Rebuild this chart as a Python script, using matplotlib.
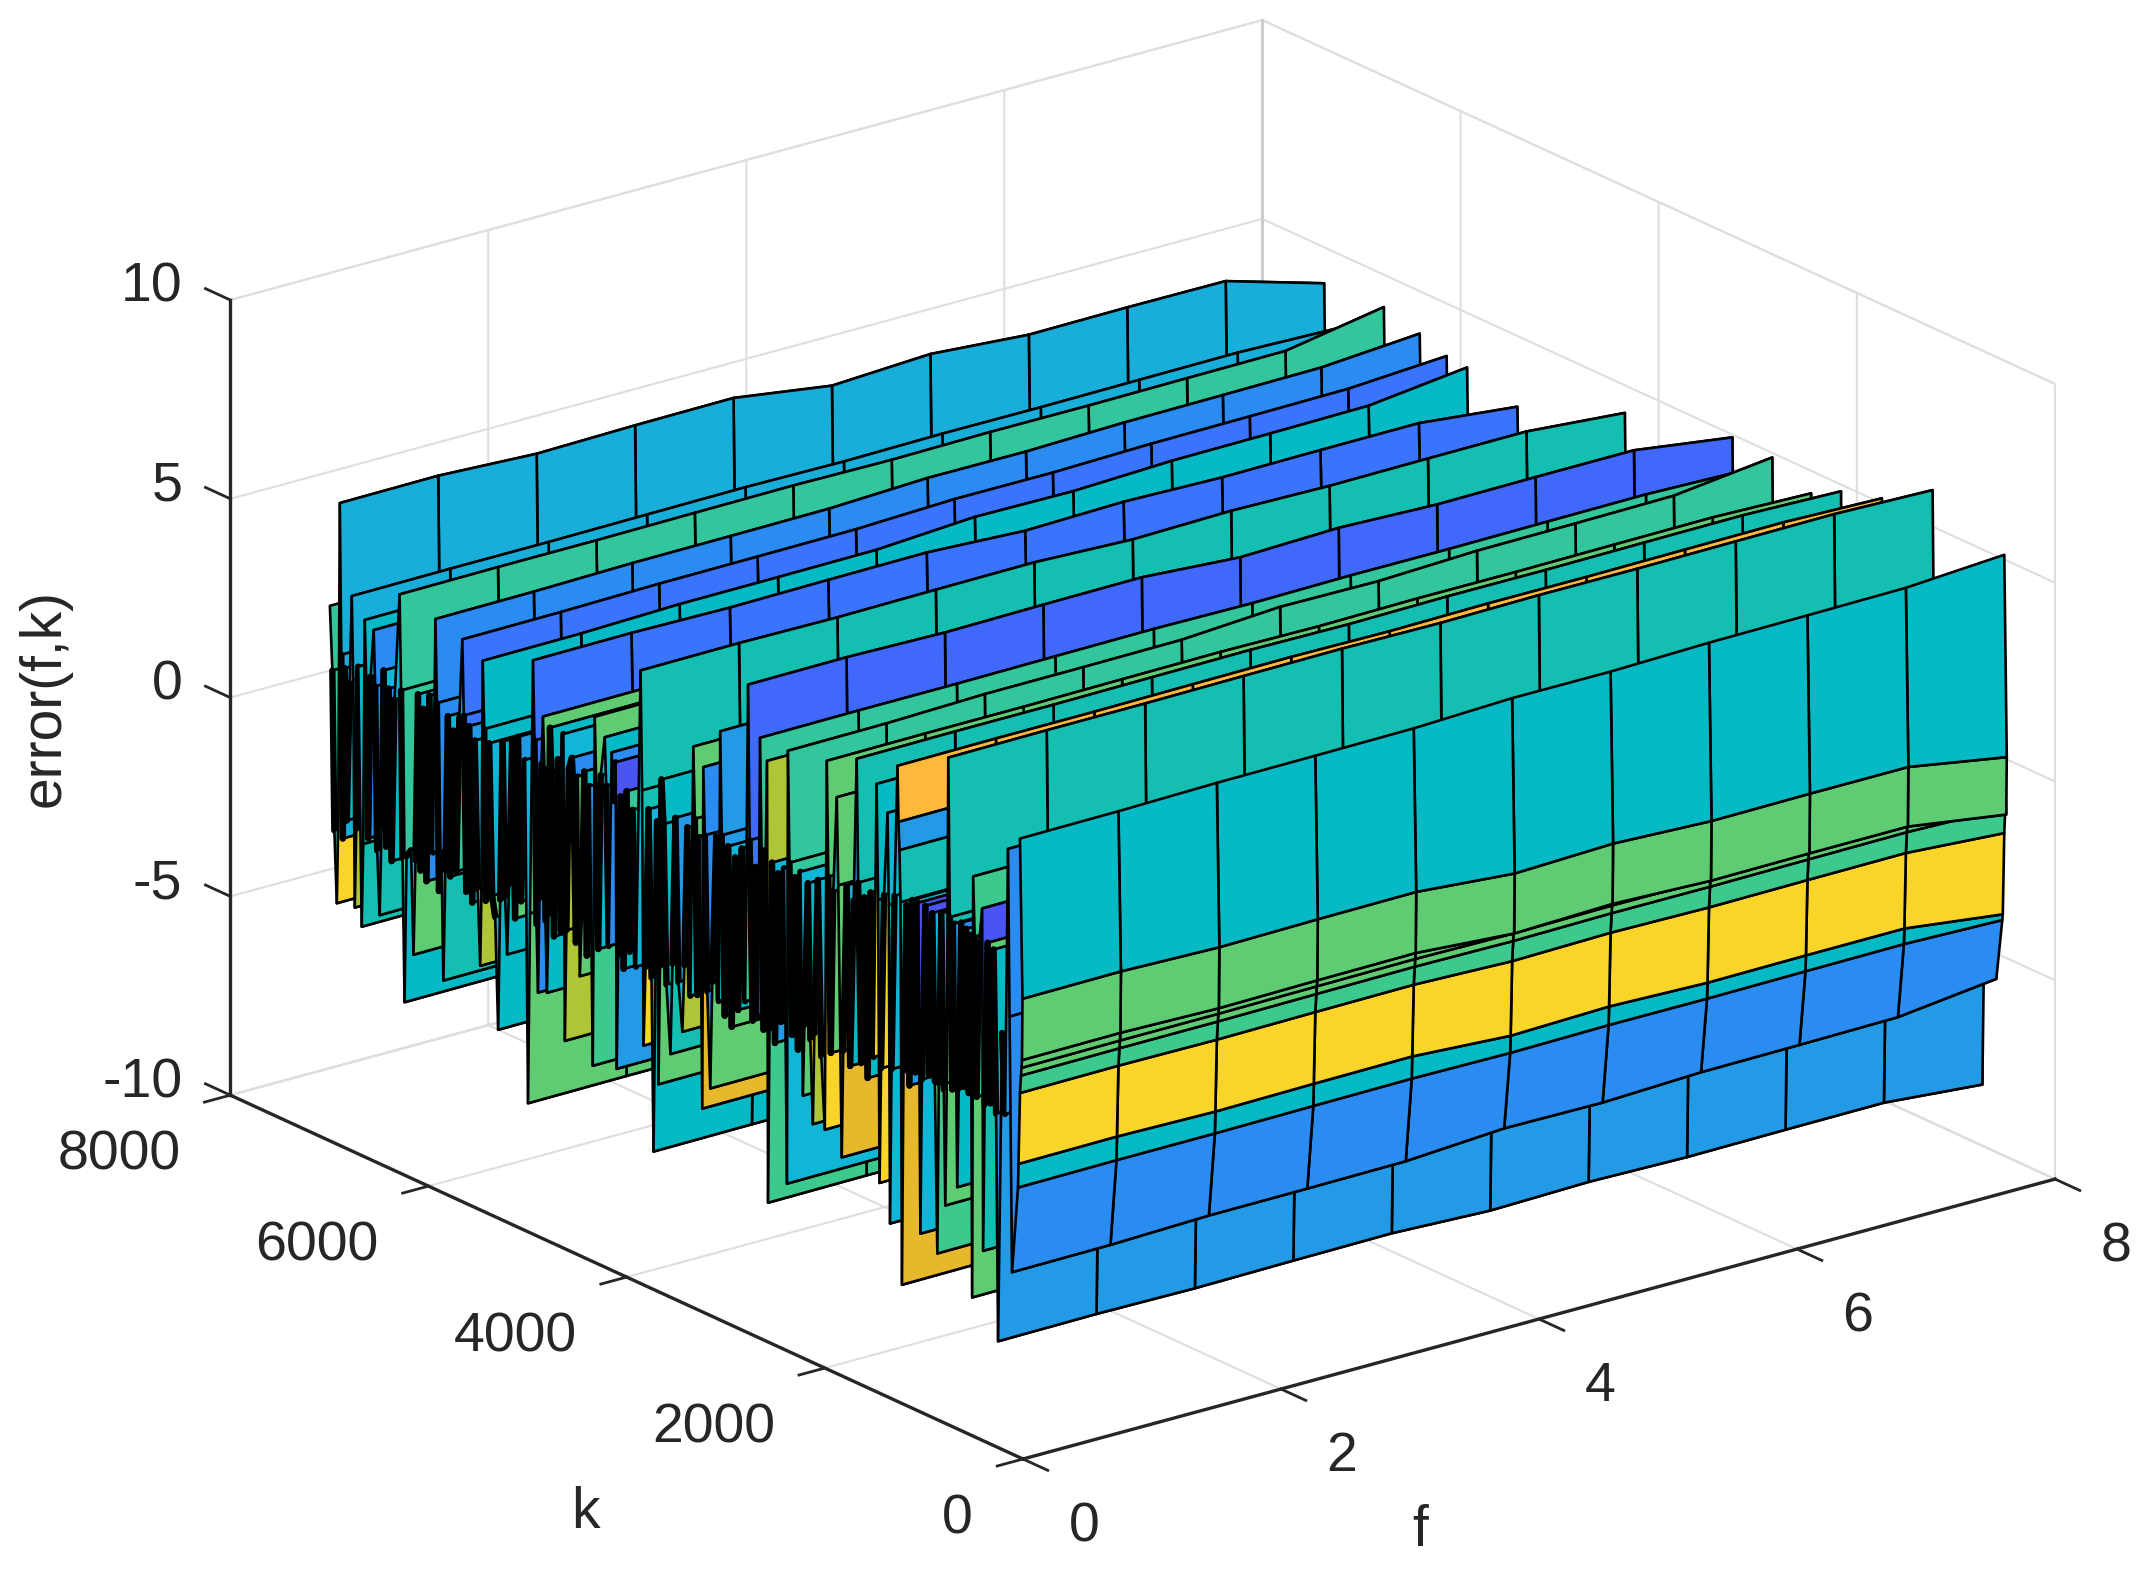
import numpy as np
import matplotlib
matplotlib.use("Agg")
import matplotlib.pyplot as plt
from matplotlib.colors import to_rgba
from mpl_toolkits.mplot3d import proj3d

plt.rcParams['font.family'] = ['Liberation Sans', 'DejaVu Sans']
plt.rcParams['axes.unicode_minus'] = False

W, H = 2147, 1569
TEXT = '#262626'

f_grid = [0, 0.763, 1.526, 2.289, 3.052, 3.815, 4.578, 5.341, 6.104, 6.867, 7.63]
f_share = [0, 0, .1, .08, .08, .36, .28, .43, .43, .45, 1]
f_share_end = [0, 0, 0, 0, 0, 0, 0, 0, 0, 0, 1]

palette = dict(a='#19AEDA', b='#2A8BF0', r='#3A74FC', i='#4068FB', t='#14BEB0', c='#06BAC5',
               g='#33C59B', l='#5FCC74', m='#AEC636', y='#F9D52A', o='#FCB93A', s='#229AE6',
               n='#E6B82C', u='#10B6D6', p='#4A54F0', e='#3CC98E')

row_k = [
 7000,6975,6955,6930,6915,6900,6885,6870,6850,6830,6800,6780,
 6765,6750,6735,6715,6680,6665,6650,6635,6615,6590,6560,6545,
 6525,6500,6480,6460,6435,6410,6380,6350,6300,6285,6270,6250,
 6230,6185,6160,6140,6115,6090,6060,6030,6000,5965,5940,5925,
 5905,5880,5860,5840,5815,5790,5760,5730,5700,5670,5655,5630,
 5600,5570,5545,5515,5490,5478,5465,5450,5435,5400,5370,5340,
 5310,5290,5265,5240,5220,5200,5170,5140,5110,5080,5040,5010,
 4990,4960,4945,4925,4910,4895,4875,4860,4845,4835,4820,4805,
 4790,4775,4750,4710,4680,4655,4640,4625,4600,4570,4555,4530,
 4510,4490,4470,4445,4420,4390,4360,4340,4325,4305,4280,4240,
 4225,4200,4170,4150,4130,4120,4105,4080,4050,4020,3990,3960,
 3925,3880,3865,3850,3830,3800,3770,3750,3730,3715,3700,3685,
 3670,3650,3620,3580,3560,3530,3500,3460,3440,3410,3380,3350,
 3335,3310,3285,3260,3250,3235,3210,3180,3160,3120,3095,3080,
 3065,3035,3000,2965,2930,2900,2865,2830,2800,2785,2755,2725,
 2700,2680,2665,2645,2625,2610,2600,2585,2560,2530,2500,2470,
 2440,2410,2400,2385,2360,2330,2300,2275,2250,2235,2200,2175,
 2150,2135,2100,2065,2030,2010,1995,1970,1945,1910,1895,1860,
 1845,1810,1775,1740,1710,1695,1665,1635,1600,1570,1540,1510,
 1495,1480,1465,1435,1400,1388,1375,1360,1330,1300,1290,1280,
 1270,1255,1240,1210,1180,1150,1120,1090,1070,1055,1020,985,
 950,925,900,885,860,835,820,805,790,775,750,725,
 700,685,660,635,610,585,565,550,540,525,505,480,
 450,440,425,395,365,335,310,290,250,220,190,175,
 150,90,85,70,60,55,50,45,70]

row_z = [
 3.4,1.8,-2.2,-4.0,-1.8,6.1,2.3,-2.3,2.0,-1.8,1.7,3.9,
 1.8,-3.9,-1.9,2.2,-4.3,-2.2,3.45,2.0,-2.0,2.1,3.3,1.9,
 -2.2,-3.8,-1.5,2.4,-2.0,2.0,-2.3,1.8,4.5,2.1,-2.1,-5.7,
 -2.0,-1.8,-4.4,-2.0,2.2,-2.2,1.9,-2.4,2.3,-1.6,4.3,2.2,
 -2.5,-1.5,-4.7,-1.9,2.0,-2.0,1.7,-1.8,2.1,4.1,2.2,-2.2,
 2.0,-2.4,1.7,-2.0,-3.9,-2.0,3.8,2.1,-2.2,1.8,-2.0,-2.5,
 -5.3,-2.0,2.0,-1.9,-3.3,-1.5,2.1,-2.3,2.3,-1.8,1.8,-6.8,
 -2.0,4.4,2.4,-2.2,-3.9,-1.5,1.9,3.1,1.8,-2.0,-3.8,-1.8,
 2.9,1.8,-2.3,2.2,-2.1,2.9,-4.8,-2.0,2.1,2.4,1.7,-2.2,
 2.0,-3.0,-1.5,2.2,-2.4,1.9,-5.1,3.7,2.0,-2.1,2.3,3.3,
 2.1,-1.9,3.0,1.8,2.8,-4.9,-2.0,2.0,-2.3,2.2,-1.8,1.8,
 -2.1,5.4,2.4,-4.0,-2.0,2.0,-2.2,-6.55,-2.0,1.8,-4.8,-1.8,
 2.9,1.8,-2.2,-3.9,-1.6,2.1,-2.0,-3.2,-1.5,2.0,-2.2,4.1,
 2.3,-2.1,1.9,-4.9,3.7,2.0,-1.9,-4.3,-1.6,2.1,-2.0,4.8,
 2.2,-2.3,2.0,-2.5,1.8,-2.0,2.1,-1.7,6.3,2.4,-2.1,1.8,
 -1.9,5.1,2.3,-2.2,2.0,4.6,-6.5,-2.1,2.1,-2.4,1.9,-1.8,
 2.1,-5.8,5.1,2.3,-2.0,2.0,-2.3,2.2,-3.4,-1.6,2.0,-1.9,
 -4.0,-1.7,2.2,-2.2,-4.0,5.3,2.4,-2.0,2.1,4.5,2.3,-4.5,
 -1.8,2.4,-2.1,2.1,5.7,2.6,-1.9,2.3,-2.2,2.5,-1.6,5.3,
 2.4,-4.7,-1.8,2.6,4.7,2.4,-5.6,-1.7,2.7,6.0,4.6,3.9,
 2.6,-7.0,-1.6,2.6,-1.9,2.8,-1.5,2.8,-5.5,-1.6,2.8,-1.4,
 2.7,-1.5,-5.8,-1.5,2.8,-1.6,-4.5,-1.4,6.8,2.8,-1.5,2.7,
 -3.9,-1.4,2.8,-1.3,2.7,-1.4,2.6,-6.5,4.1,2.6,-1.4,2.5,
 3.4,-5.2,-1.5,2.6,-1.4,2.5,-1.6,-7.3,0.5,-1.5,5.2,1.0,
 -5.4,-3.2,-2.6,-0.8,-0.35,-0.15,0.05,1.6,5.6]

row_c = ("gggyyaaaucba" "ammcttccbubb" "bttusbcugggc" "ccllusc" "busbb"
         "bbttucsgurrr" "sculmmccculc" "ccuscutlscul" "lrrrbbslllcc"
         "cculcummgbbu" "lllcusellucc" "cbbbpssucgbc" "uttyyubcclll"
         "cccttsummecl" "llunbbbllucs" "sculscugiruc" "sgggmmeeuscl"
         "uugggscullcn" "mmucylllclln" "nucsttulcsyc" "cyyuuuuucost"
         "tnnusclpuupc" "uleeclllttus" "ccbuclpleeep" "pttlucbsssbb"
         "bcyelllcc")

tilted_k = [6900, 5940, 5670, 5465, 4960, 3880, 2800, 2400, 290, 150, 85, 70, 50, 45, 70]
tilted_z = [6.1, 4.3, 4.1, 3.8, 4.4, 5.4, 6.3, 5.1, -7.3, -5.4, -2.6, -0.8, 0.05, 1.6, 5.6]
tilted_dz = [-1.35, 0.3, 0.25, 0.5, -0.5, -0.4, -0.66, 0.5, -0.42, 0.5, -0.6, -0.34, -0.7, -0.8, 0.26]
default_dz = -0.15
end_rise_k = [6300]
end_rise_z = [4.5]
end_rise_dz = [0.5]

f_ticks = [0, 2, 4, 6, 8]
k_ticks = [0, 2000, 4000, 6000, 8000]
z_ticks = [-10, -5, 0, 5, 10]

n = min(len(row_k), len(row_z))
tilts = {(a, b): c for a, b, c in zip(tilted_k, tilted_z, tilted_dz)}
rises = {(a, b): c for a, b, c in zip(end_rise_k, end_rise_z, end_rise_dz)}
share = np.array(f_share)
share_end = np.array(f_share_end)
# the rows were read against a first estimate of the box corners; these correct to the measured corners
k_values = np.array(row_k[:n], float) * 1.005 - 40
F, K = np.meshgrid(np.array(f_grid), k_values)
Z = np.array([row_z[i]
              + tilts.get((row_k[i], row_z[i]), default_dz) * share
              + rises.get((row_k[i], row_z[i]), 0) * share_end for i in range(n)])
Z = Z - 0.03 + 0.0000126 * K + 0.0214 * F

fig = plt.figure(figsize=(W / 100, H / 100), dpi=100, facecolor='white')
S = 1500
ax = fig.add_axes([0.1, 0.02, S / W, S / H], projection='3d', proj_type='ortho', facecolor='white')
ax.computed_zorder = False
ax.view_init(elev=20.66, azim=-127.55)
ax.set_xlim(0, 8, view_margin=0)
ax.set_ylim(0, 8000, view_margin=0)
ax.set_zlim(-10, 10, view_margin=0)
ax.set_box_aspect((1302, 1301, 850), zoom=1)


def pix(p):
    x, y, _ = proj3d.proj_transform(p[0], p[1], p[2], ax.get_proj())
    return ax.transData.transform((x, y))


tgt_o = np.array([1023, H - 1459.0])
tgt_f = np.array([2055, H - 1179.0])
for _ in range(3):
    ax.apply_aspect()
    po, pf = pix((0, 0, -10)), pix((8, 0, -10))
    s = np.linalg.norm(tgt_f - tgt_o) / np.linalg.norm(pf - po)
    bb = ax.get_position(original=True)
    ax.set_position([bb.x0, bb.y0, bb.width * s, bb.height * s])
    ax.apply_aspect()
    po = pix((0, 0, -10))
    bb = ax.get_position(original=True)
    d = tgt_o - po
    ax.set_position([bb.x0 + d[0] / W, bb.y0 + d[1] / H, bb.width, bb.height])
ax.apply_aspect()

# one sheet per row pair, painted back to front
BAND_LOW, BAND_HIGH = -2.8, 3.0
for i in range(n - 1):
    col = to_rgba(palette[row_c[i]])
    fc = np.array([[col] * F.shape[1]] * 2)
    ax.plot_surface(F[i:i + 2], K[i:i + 2], Z[i:i + 2], facecolors=fc, rstride=1, cstride=1,
                    shade=False, edgecolor='black', linewidth=1.9, antialiased=True, zorder=10 + i)
    if i < n - 8 and BAND_LOW < row_z[i] < BAND_HIGH and BAND_LOW < row_z[i + 1] < BAND_HIGH:
        ax.plot([0, 0], k_values[i:i + 2], Z[i:i + 2, 0], color='black', lw=4.6,
                solid_capstyle='round', zorder=10.5 + i)

ax.set_xticks(f_ticks)
ax.set_yticks(k_ticks)
ax.set_zticks(z_ticks)
ax.set_xticklabels([])
ax.set_yticklabels([])
ax.set_zticklabels([])
for axis in (ax.xaxis, ax.yaxis, ax.zaxis):
    axis.set_pane_color((1, 1, 1, 1))
    axis.pane.set_edgecolor('#e0e0e0')
    axis.pane.set_linewidth(1.5)
    axis.line.set_color(TEXT)
    axis.line.set_linewidth(2.4)
    axis._axinfo['grid'].update(color='#dedede', linewidth=1.5)
    axis._axinfo['tick'].update(inward_factor=0, outward_factor=0, linewidth={True: 0, False: 0})
ax.tick_params(axis='both', length=0, width=0)

# darker back corner of the box
ax.plot([8, 8], [8000, 8000], [-10, 10], color='#cccccc', lw=2.2, zorder=1)

TICK_K = 250
TICK_F = 0.2
for v in f_ticks:
    ax.plot([v, v], [0, -TICK_K], [-10, -10], color=TEXT, lw=2, zorder=5)
    px, py = pix((v, 0, -10))
    fig.text((px + 61) / W, (py - 68) / H, str(v), fontsize=40, color=TEXT, ha='center', va='center')
for v in k_ticks:
    ax.plot([0, -TICK_F], [v, v], [-10, -10], color=TEXT, lw=2, zorder=5)
    px, py = pix((0, v, -10))
    fig.text((px - 50) / W, (py - 60) / H, str(v), fontsize=40, color=TEXT, ha='right', va='center')
for v in z_ticks:
    ax.plot([0, 0], [8000, 8000 + TICK_K], [v, v], color=TEXT, lw=2, zorder=5)
    px, py = pix((0, 8000, v))
    fig.text((px - 48) / W, (py + 12) / H, str(v), fontsize=40, color=TEXT, ha='right', va='center')

fig.text(1420 / W, 1 - 1531 / H, 'f', fontsize=41, color=TEXT, ha='center', va='center')
fig.text(585 / W, 1 - 1513 / H, 'k', fontsize=41, color=TEXT, ha='center', va='center')
fig.text(45 / W, 1 - 698 / H, 'error(f,k)', fontsize=41, color=TEXT, rotation=90, ha='center', va='center')

fig.savefig('out.png', dpi=100, facecolor='white')
